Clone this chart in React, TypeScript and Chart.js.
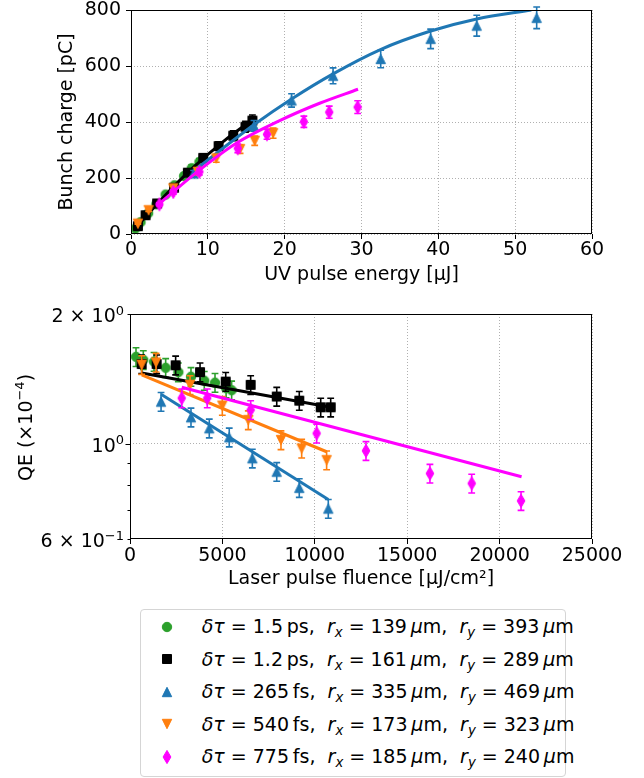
import React, { useEffect, useRef } from 'react';
import { Chart, registerables } from 'chart.js';

Chart.register(...registerables);
Chart.defaults.font.family = "'DejaVu Sans', sans-serif";
Chart.defaults.font.size = 19;
Chart.defaults.color = '#000';

// ---------------- top panel: UV pulse energy [μJ] vs bunch charge [pC] ----------------
const energyTicks = [0, 10, 20, 30, 40, 50, 60];
const chargeTicks = [0, 200, 400, 600, 800];

const greenEnergy = [0.56, 1.24, 2.23, 3.3, 4.5, 5.66, 6.9, 7.9, 8.9, 9.4];
const greenCharge = [19, 42, 74, 106, 141, 174, 207, 235, 257, 268];
const blackEnergy = [0.9, 1.9, 3.4, 5.6, 7.4, 9.4, 11.4, 13.3, 14.9, 15.8];
const blackCharge = [28, 67, 109, 165, 219, 272, 314, 351, 383, 405];
const blueEnergy = [8.15, 16.0, 20.9, 26.3, 32.5, 39.0, 45.0, 52.8];
const blueCharge = [216, 386, 477, 565, 625, 697, 744, 772];
const orangeEnergy = [0.9, 2.3, 5.5, 8.7, 11.1, 14.2, 16.1, 18.5];
const orangeCharge = [37, 85, 163, 222, 270, 303, 333, 360];
const magentaEnergy = [3.7, 5.5, 8.9, 13.9, 17.7, 22.5, 25.8, 29.5];
const magentaCharge = [106, 150, 222, 306, 356, 401, 435, 453];

// fitted curves
const blackFitEnergy = [0.9, 4, 8, 12, 15.9];
const blackFitCharge = [30, 125, 235, 330, 410];
const blueFitEnergy = [8.2, 16.0, 21.0, 26.3, 32.4, 38.9, 45.0, 52.1];
const blueFitCharge = [226, 390, 484, 572, 658, 724, 768, 800];
const magentaFitEnergy = [3.9, 8.9, 13.7, 19.35, 24.55, 29.55];
const magentaFitCharge = [113, 228, 324, 405, 467, 517];

// ---------------- bottom panel: laser fluence [μJ/cm²] vs QE (×10⁻⁴) ----------------
const fluenceTicks = [0, 5000, 10000, 15000, 20000, 25000];
const qeTickValues = [0.6, 1, 2];
const qeTickMantissa = ['6 × ', '', '2 × '];
const qeTickExponent = ['−1', '0', '0'];
const qeMajorTicks = [1];
const qeMinorTicks = [0.6, 0.7, 0.8, 0.9, 2];

const greenFluence = [325, 720, 1300, 1930, 2615, 3300, 4020, 4600, 5200, 5500];
const greenQE = [1.59, 1.565, 1.55, 1.5, 1.465, 1.43, 1.4, 1.385, 1.345, 1.33];
const blackFluence = [632, 1444, 2470, 3790, 5180, 6530, 7940, 9160, 10320, 10860];
const blackQE = [1.53, 1.53, 1.52, 1.465, 1.393, 1.369, 1.286, 1.258, 1.214, 1.214];
const blueFluence = [1680, 3300, 4290, 5370, 6620, 7940, 9160, 10730];
const blueQE = [1.251, 1.151, 1.085, 1.034, 0.924, 0.86, 0.789, 0.706];
const orangeFluence = [632, 1410, 3250, 4995, 6400, 8170, 9290, 10640];
const orangeQE = [1.524, 1.543, 1.369, 1.225, 1.134, 1.019, 0.974, 0.915];
const magentaFluence = [2800, 4180, 6530, 10100, 12770, 16230, 18490, 21160];
const magentaQE = [1.275, 1.275, 1.197, 1.056, 0.962, 0.852, 0.808, 0.736];

const blackFitFluence = [632, 10860];
const blackFitQE = [1.458, 1.214];
const blueFitFluence = [1680, 10730];
const blueFitQE = [1.302, 0.741];
const orangeFitFluence = [632, 10640];
const orangeFitQE = [1.444, 0.957];
const magentaFitFluence = [2800, 21190];
const magentaFitQE = [1.352, 0.837];

// relative measurement error (error bars)
const ERR_REL = 0.05;

// axis title of the QE panel: normal part, superscript, closing part
const qeTitleParts = ['QE (×10', '−4', ')'];

// ---------------- legend ----------------
const legendPulse = ['1.5', '1.2', '265', '540', '775'];
const legendPulseUnit = ['ps', 'ps', 'fs', 'fs', 'fs'];
const legendRx = ['139', '161', '335', '173', '185'];
const legendRy = ['393', '289', '469', '323', '240'];

// ---------------- styles ----------------
const GREEN = '#2ca02c';
const BLACK = '#000000';
const BLUE = '#1f77b4';
const ORANGE = '#ff7f0e';
const MAGENTA = '#ff00ff';
const seriesColors = [GREEN, BLACK, BLUE, ORANGE, MAGENTA];

const MARKER_PATHS: Record<string, string> = {
  circle: 'M 4.7 0 A 4.7 4.7 0 1 1 -4.7 0 A 4.7 4.7 0 1 1 4.7 0 Z',
  square: 'M -4.5 -4.5 H 4.5 V 4.5 H -4.5 Z',
  triUp: 'M 0 -4.7 L 4.7 4.7 L -4.7 4.7 Z',
  triDown: 'M 0 4.7 L 4.7 -4.7 L -4.7 -4.7 Z',
  thinDiamond: 'M 0 -6.6 L 3.9 0 L 0 6.6 L -3.9 0 Z',
};
const seriesMarkers = ['circle', 'square', 'triUp', 'triDown', 'thinDiamond'];

const GRID_COLOR = '#b0b0b0';
const CAP = 3.4;
const FONT_FAMILY = "'DejaVu Sans', sans-serif";
const MAIN_PX = 19;
const SUP_PX = 13;
const SUP_RAISE = 7.7;

function makeMarker(shape: string, color: string): HTMLCanvasElement {
  const c = document.createElement('canvas');
  c.width = 18;
  c.height = 18;
  const ctx = c.getContext('2d')!;
  ctx.translate(9, 9);
  const p = new Path2D(MARKER_PATHS[shape]);
  ctx.fillStyle = color;
  ctx.strokeStyle = color;
  ctx.lineWidth = 1;
  ctx.fill(p);
  ctx.stroke(p);
  return c;
}

// draw text pieces alternating normal / superscript, anchored at a baseline
function drawMath(ctx: CanvasRenderingContext2D, parts: string[], x: number, baseline: number, align: 'right' | 'center') {
  const fonts = parts.map((_, i) => `${i % 2 === 1 ? SUP_PX : MAIN_PX}px ${FONT_FAMILY}`);
  const widths = parts.map((t, i) => {
    ctx.font = fonts[i];
    return ctx.measureText(t).width;
  });
  const total = widths.reduce((a, b) => a + b, 0);
  let cx = align === 'right' ? x - total : x - total / 2;
  ctx.textAlign = 'left';
  ctx.textBaseline = 'alphabetic';
  parts.forEach((t, i) => {
    ctx.font = fonts[i];
    ctx.fillText(t, cx, i % 2 === 1 ? baseline - SUP_RAISE : baseline);
    cx += widths[i];
  });
}

const errorBars = {
  id: 'errorBars',
  beforeDatasetDraw(chart: any, args: any) {
    const ds = chart.data.datasets[args.index];
    if (!ds.errRel) return;
    const yScale = chart.scales.y;
    const ctx = chart.ctx;
    ctx.save();
    ctx.strokeStyle = ds.errColor;
    ctx.lineWidth = 1.6;
    args.meta.data.forEach((el: any, j: number) => {
      const v = ds.data[j].y;
      const x = el.x;
      const y1 = yScale.getPixelForValue(v * (1 - ds.errRel));
      const y2 = yScale.getPixelForValue(v * (1 + ds.errRel));
      ctx.beginPath();
      ctx.moveTo(x, y1);
      ctx.lineTo(x, y2);
      ctx.moveTo(x - CAP, y1);
      ctx.lineTo(x + CAP, y1);
      ctx.moveTo(x - CAP, y2);
      ctx.lineTo(x + CAP, y2);
      ctx.stroke();
    });
    ctx.restore();
  },
};

const frame = {
  id: 'frame',
  afterDraw(chart: any) {
    const { left, top, right, bottom } = chart.chartArea;
    const ctx = chart.ctx;
    ctx.save();
    ctx.strokeStyle = '#000';
    ctx.lineWidth = 1;
    const l = Math.round(left) + 0.5;
    const t = Math.round(top) + 0.5;
    const r = Math.round(right) - 0.5;
    const b = Math.round(bottom) - 0.5;
    ctx.strokeRect(l, t, r - l, b - t);
    ctx.restore();
  },
};

// log-axis ticks, labels with superscripts and axis title of the QE panel
const logAxis = {
  id: 'logAxis',
  afterDraw(chart: any) {
    const y = chart.scales.y;
    const ctx = chart.ctx;
    const area = chart.chartArea;
    const left = Math.round(area.left) + 0.5;
    ctx.save();
    ctx.strokeStyle = '#000';
    ctx.lineWidth = 1;
    ctx.beginPath();
    qeMajorTicks.forEach((v) => {
      const py = Math.round(y.getPixelForValue(v)) + 0.5;
      ctx.moveTo(left - 5, py);
      ctx.lineTo(left, py);
    });
    qeMinorTicks.forEach((v) => {
      const py = Math.round(y.getPixelForValue(v)) + 0.5;
      ctx.moveTo(left - 3, py);
      ctx.lineTo(left, py);
    });
    ctx.stroke();

    ctx.fillStyle = '#000';
    qeTickValues.forEach((v, i) => {
      const py = y.getPixelForValue(v);
      drawMath(ctx, [qeTickMantissa[i] + '10', qeTickExponent[i]], area.left - 6, py + 8.4, 'right');
    });

    ctx.translate(31.5, (area.top + area.bottom) / 2 + 1);
    ctx.rotate(-Math.PI / 2);
    drawMath(ctx, qeTitleParts, 0, 0, 'center');
    ctx.restore();
  },
};

function pts(xs: number[], ys: number[]) {
  return xs.map((x, i) => ({ x, y: ys[i] }));
}

function pointSet(xs: number[], ys: number[], si: number, markers: HTMLCanvasElement[]) {
  return {
    data: pts(xs, ys),
    showLine: false,
    pointStyle: markers[si],
    pointRadius: 5,
    borderColor: seriesColors[si],
    backgroundColor: seriesColors[si],
    errRel: ERR_REL,
    errColor: seriesColors[si],
  };
}

function fitSet(xs: number[], ys: number[], si: number, curved: boolean) {
  return {
    data: pts(xs, ys),
    showLine: true,
    pointRadius: 0,
    borderColor: seriesColors[si],
    backgroundColor: seriesColors[si],
    borderWidth: 3,
    fill: false,
    tension: 0,
    cubicInterpolationMode: curved ? 'monotone' : 'default',
  };
}

function withOrder(list: any[]) {
  return list.map((d, i) => ({ ...d, order: list.length - i }));
}

const tickFont = { size: MAIN_PX };

export default function App() {
  const topRef = useRef<HTMLCanvasElement>(null);
  const botRef = useRef<HTMLCanvasElement>(null);

  useEffect(() => {
    const markers = seriesMarkers.map((m, i) => makeMarker(m, seriesColors[i]));

    const topDatasets = withOrder([
      pointSet(greenEnergy, greenCharge, 0, markers),
      pointSet(blackEnergy, blackCharge, 1, markers),
      fitSet(blackFitEnergy, blackFitCharge, 1, true),
      pointSet(blueEnergy, blueCharge, 2, markers),
      fitSet(blueFitEnergy, blueFitCharge, 2, true),
      pointSet(orangeEnergy, orangeCharge, 3, markers),
      pointSet(magentaEnergy, magentaCharge, 4, markers),
      fitSet(magentaFitEnergy, magentaFitCharge, 4, true),
    ]);

    const botDatasets = withOrder([
      pointSet(greenFluence, greenQE, 0, markers),
      pointSet(blackFluence, blackQE, 1, markers),
      fitSet(blackFitFluence, blackFitQE, 1, false),
      pointSet(blueFluence, blueQE, 2, markers),
      fitSet(blueFitFluence, blueFitQE, 2, false),
      pointSet(orangeFluence, orangeQE, 3, markers),
      fitSet(orangeFitFluence, orangeFitQE, 3, false),
      pointSet(magentaFluence, magentaQE, 4, markers),
      fitSet(magentaFitFluence, magentaFitQE, 4, false),
    ]);

    const gridBase = {
      color: GRID_COLOR,
      lineWidth: 1,
      tickColor: '#000',
      tickWidth: 1,
      tickLength: 5,
      drawTicks: true,
    };

    const top = new Chart(topRef.current!, {
      type: 'scatter',
      data: { datasets: topDatasets as any },
      plugins: [errorBars, frame],
      options: {
        responsive: false,
        animation: false,
        events: [],
        layout: { padding: { top: 10, right: 52, bottom: 0, left: 0 } },
        plugins: { legend: { display: false }, tooltip: { enabled: false } },
        scales: {
          x: {
            type: 'linear',
            min: 0,
            max: 60,
            afterBuildTicks: (s: any) => {
              s.ticks = energyTicks.map((v) => ({ value: v }));
            },
            ticks: { font: tickFont, color: '#000', padding: 0, maxRotation: 0, autoSkip: false, callback: (v: any) => String(v) },
            grid: gridBase,
            border: { display: false, dash: [1, 2] },
            title: { display: true, text: 'UV pulse energy [μJ]', font: { size: MAIN_PX }, color: '#000', padding: { top: 0, bottom: 4 } },
            afterFit: (s: any) => {
              s.height = 56;
            },
          },
          y: {
            type: 'linear',
            min: 0,
            max: 800,
            afterBuildTicks: (s: any) => {
              s.ticks = chargeTicks.map((v) => ({ value: v }));
            },
            ticks: { font: tickFont, color: '#000', padding: 5, autoSkip: false, callback: (v: any) => String(v) },
            grid: gridBase,
            border: { display: false, dash: [1, 2] },
            title: { display: true, text: 'Bunch charge [pC]', font: { size: MAIN_PX }, color: '#000', padding: { top: 56, bottom: 0 } },
            afterFit: (s: any) => {
              s.width = 131;
              s.paddingTop = 0;
              s.paddingBottom = 0;
            },
          },
        },
      } as any,
    });

    const bot = new Chart(botRef.current!, {
      type: 'scatter',
      data: { datasets: botDatasets as any },
      plugins: [errorBars, frame, logAxis],
      options: {
        responsive: false,
        animation: false,
        events: [],
        layout: { padding: { top: 24, right: 52, bottom: 0, left: 0 } },
        plugins: { legend: { display: false }, tooltip: { enabled: false } },
        scales: {
          x: {
            type: 'linear',
            min: 0,
            max: 25000,
            afterBuildTicks: (s: any) => {
              s.ticks = fluenceTicks.map((v) => ({ value: v }));
            },
            ticks: { font: tickFont, color: '#000', padding: 1, maxRotation: 0, autoSkip: false, callback: (v: any) => String(v) },
            grid: gridBase,
            border: { display: false, dash: [1, 2] },
            title: { display: true, text: 'Laser pulse fluence [μJ/cm²]', font: { size: MAIN_PX }, color: '#000', padding: { top: 0, bottom: 10 } },
            afterFit: (s: any) => {
              s.height = 61;
            },
          },
          y: {
            type: 'logarithmic',
            min: 0.6,
            max: 2,
            afterBuildTicks: (s: any) => {
              s.ticks = qeTickValues.map((v) => ({ value: v }));
            },
            ticks: { display: false },
            grid: {
              ...gridBase,
              drawTicks: false,
              color: (c: any) => (c.tick && c.tick.value === 1 ? GRID_COLOR : 'rgba(0,0,0,0)'),
            },
            border: { display: false, dash: [1, 2] },
            title: { display: false },
            afterFit: (s: any) => {
              s.width = 130;
              s.paddingTop = 0;
              s.paddingBottom = 0;
            },
          },
        },
      } as any,
    });

    return () => {
      top.destroy();
      bot.destroy();
    };
  }, []);

  const rowCenter0 = 16.7;
  const rowStep = 32.5;
  const subStyle = { fontSize: '0.7em', verticalAlign: '-0.3em', lineHeight: 0 };

  return (
    <div
      style={{
        position: 'absolute',
        left: 0,
        top: 0,
        width: 644,
        height: 778,
        background: '#fff',
        fontFamily: FONT_FAMILY,
        overflow: 'hidden',
      }}
    >
      <canvas ref={topRef} width={644} height={290} style={{ position: 'absolute', left: 0, top: 0 }} />
      <canvas ref={botRef} width={644} height={310} style={{ position: 'absolute', left: 0, top: 290 }} />
      <div
        style={{
          position: 'absolute',
          left: 140,
          top: 609,
          width: 426,
          height: 168,
          border: '1px solid #d5d5d5',
          borderRadius: 4,
          boxSizing: 'border-box',
          background: '#fff',
        }}
      >
        {legendPulse.map((p, i) => {
          const cy = rowCenter0 + i * rowStep;
          return (
            <React.Fragment key={i}>
              <svg width={18} height={18} style={{ position: 'absolute', left: 25.7 - 9, top: cy - 9 }}>
                <path
                  d={MARKER_PATHS[seriesMarkers[i]]}
                  transform="translate(9 9)"
                  fill={seriesColors[i]}
                  stroke={seriesColors[i]}
                  strokeWidth={1}
                />
              </svg>
              <div
                style={{
                  position: 'absolute',
                  left: 60.7,
                  top: cy - 11.5,
                  height: 23,
                  lineHeight: '23px',
                  fontSize: MAIN_PX,
                  whiteSpace: 'nowrap',
                  color: '#000',
                }}
              >
                <i>δτ</i> = {p}
                {'\u2009'}
                {legendPulseUnit[i]},{'\u00a0\u00a0'}
                <i>r</i>
                <sub style={subStyle}>
                  <i>x</i>
                </sub>{' '}
                = {legendRx[i]}
                {'\u2009'}
                <i>μ</i>m,{'\u00a0\u00a0'}
                <i>r</i>
                <sub style={subStyle}>
                  <i>y</i>
                </sub>{' '}
                = {legendRy[i]}
                {'\u2009'}
                <i>μ</i>m
              </div>
            </React.Fragment>
          );
        })}
      </div>
    </div>
  );
}
